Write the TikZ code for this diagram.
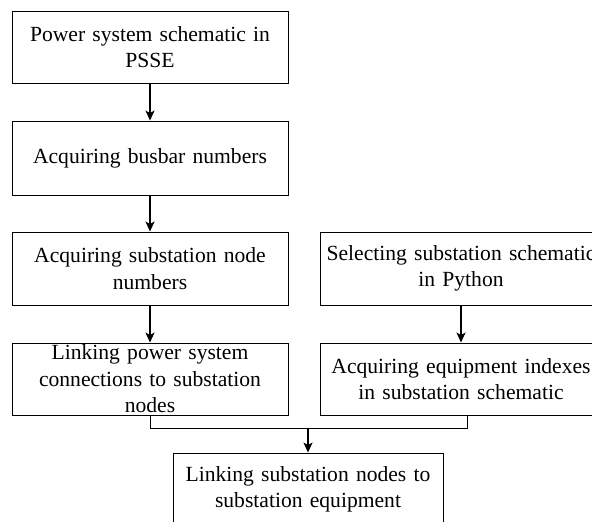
\documentclass[tikz,border=0pt]{standalone}
\usepackage{fontspec}
\setmainfont{Liberation Serif}
\usetikzlibrary{arrows.meta}
\tikzset{
  stepbox/.style={draw, line width=0.9pt, inner sep=0pt, align=center,
    font=\fontsize{21.6}{26.5}\selectfont},
  flow/.style={line width=1.3pt, -{Stealth[length=10pt,width=9pt,inset=2.5pt]}},
  joinline/.style={line width=0.9pt}
}
\begin{document}
\begin{tikzpicture}[x=1pt,y=-1pt]
\useasboundingbox (0,0) rectangle (592,522);
\clip (0,0) rectangle (592,522);

% left column
\node[stepbox, minimum width=276pt, minimum height=72pt, text width=276pt] (b1) at (150,47)
  {Power system schematic in\\PSSE};
\node[stepbox, minimum width=276pt, minimum height=74pt, text width=276pt] (b2) at (150,158)
  {Acquiring busbar numbers\hspace*{14pt}};
\node[stepbox, minimum width=276pt, minimum height=73pt, text width=276pt] (b3) at (150,268.5)
  {Acquiring substation node\\numbers};
\node[stepbox, minimum width=276pt, minimum height=72pt, text width=276pt] (b4) at (150,379)
  {Linking power system\\connections to substation\\nodes};

% right column
\node[stepbox, minimum width=282pt, minimum height=73pt, text width=282pt] (b5) at (461,268.5)
  {Selecting substation schematic\\in Python};
\node[stepbox, minimum width=282pt, minimum height=72pt, text width=282pt] (b6) at (461,379)
  {Acquiring equipment indexes\\in substation schematic};

% final step
\node[stepbox, minimum width=270pt, minimum height=73pt, text width=270pt] (b7) at (308,489.5)
  {Linking substation nodes to\\substation equipment};

% connectors
\draw[flow] (b1) -- (b2);
\draw[flow] (b2) -- (b3);
\draw[flow] (b3) -- (b4);
\draw[flow] (b5) -- (b6);

\coordinate (m) at (308,428);
\draw[joinline] (b4.south) |- (m);
\draw[joinline] ([xshift=6pt]b6.south) |- (m);
\draw[flow] (m) -- (b7);
\end{tikzpicture}
\end{document}
